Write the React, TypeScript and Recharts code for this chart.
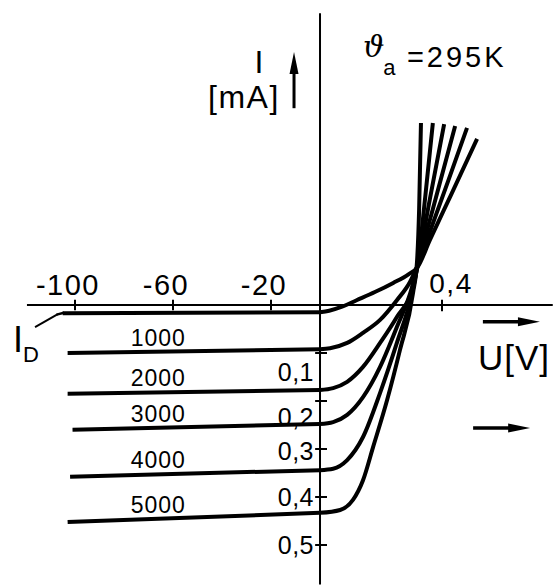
import React from 'react';
import { LineChart, Line, XAxis, YAxis, ReferenceLine, ReferenceDot } from 'recharts';

type Pt = { u: number; i: number };

// reverse branch, U in V (left scale), I in mA
const revDark: Pt[] = [{ u: -105, i: -0.017 }, { u: 0, i: -0.015 }];
const rev1000: Pt[] = [{ u: -103, i: -0.1 }, { u: 0, i: -0.092 }];
const rev2000: Pt[] = [{ u: -103, i: -0.185 }, { u: 0, i: -0.177 }];
const rev3000: Pt[] = [{ u: -101, i: -0.26 }, { u: 0, i: -0.248 }];
const rev4000: Pt[] = [{ u: -102, i: -0.358 }, { u: 0, i: -0.344 }];
const rev5000: Pt[] = [{ u: -103, i: -0.452 }, { u: 0, i: -0.433 }];

// forward branch, U in V (right scale)
const fwdDark: Pt[] = [
  { u: 0, i: -0.015 }, { u: 0.03, i: -0.012 }, { u: 0.07, i: -0.004 }, { u: 0.12, i: 0.01 },
  { u: 0.18, i: 0.027 }, { u: 0.24, i: 0.046 }, { u: 0.29, i: 0.064 }, { u: 0.32, i: 0.079 },
  { u: 0.36, i: 0.135 }, { u: 0.43, i: 0.23 }, { u: 0.515, i: 0.346 },
];
const fwd1000: Pt[] = [
  { u: 0, i: -0.092 }, { u: 0.033, i: -0.09 }, { u: 0.089, i: -0.079 }, { u: 0.141, i: -0.058 },
  { u: 0.197, i: -0.031 }, { u: 0.252, i: 0.01 }, { u: 0.295, i: 0.048 }, { u: 0.318, i: 0.079 },
  { u: 0.36, i: 0.152 }, { u: 0.42, i: 0.258 }, { u: 0.482, i: 0.369 },
];
const fwd2000: Pt[] = [
  { u: 0, i: -0.177 }, { u: 0.043, i: -0.173 }, { u: 0.089, i: -0.16 }, { u: 0.141, i: -0.129 },
  { u: 0.197, i: -0.079 }, { u: 0.252, i: -0.025 }, { u: 0.305, i: 0.038 }, { u: 0.321, i: 0.083 },
  { u: 0.37, i: 0.2 }, { u: 0.443, i: 0.373 },
];
const fwd3000: Pt[] = [
  { u: 0, i: -0.248 }, { u: 0.043, i: -0.244 }, { u: 0.089, i: -0.229 }, { u: 0.141, i: -0.192 },
  { u: 0.197, i: -0.129 }, { u: 0.252, i: -0.046 }, { u: 0.302, i: 0.038 }, { u: 0.321, i: 0.088 },
  { u: 0.36, i: 0.22 }, { u: 0.407, i: 0.377 },
];
const fwd4000: Pt[] = [
  { u: 0, i: -0.344 }, { u: 0.043, i: -0.341 }, { u: 0.089, i: -0.323 }, { u: 0.141, i: -0.275 },
  { u: 0.197, i: -0.183 }, { u: 0.252, i: -0.079 }, { u: 0.302, i: 0.025 }, { u: 0.321, i: 0.088 },
  { u: 0.345, i: 0.225 }, { u: 0.37, i: 0.379 },
];
const fwd5000: Pt[] = [
  { u: 0, i: -0.433 }, { u: 0.066, i: -0.427 }, { u: 0.108, i: -0.406 }, { u: 0.141, i: -0.365 },
  { u: 0.174, i: -0.296 }, { u: 0.22, i: -0.198 }, { u: 0.262, i: -0.094 }, { u: 0.305, i: 0.025 },
  { u: 0.318, i: 0.09 }, { u: 0.325, i: 0.2 }, { u: 0.331, i: 0.379 },
];

const illuminance = [1000, 2000, 3000, 4000, 5000];
const revLit = [rev1000, rev2000, rev3000, rev4000, rev5000];
const fwdLit = [fwd1000, fwd2000, fwd3000, fwd4000, fwd5000];

const negTicks = [-100, -60, -20];
const posTicks = [0.4];
const currentTicks = [0.1, 0.2, 0.3, 0.4, 0.5];

const W = 553;
const H = 585;
const NEG_DOMAIN = [-130.6, 95.1];
const POS_DOMAIN = [-1.0492, 0.7639];
const Y_DOMAIN = [-0.5833, 0.6354];
const FONT = '"Liberation Sans", Arial, Helvetica, sans-serif';
const INK = '#000';

const comma = (v: number) => String(v).replace('.', ',');

// value of a straight reverse line at u
const valueAt = (pts: Pt[], u: number) => {
  const [a, b] = pts;
  return a.i + ((u - a.u) / (b.u - a.u)) * (b.i - a.i);
};

const label = (text: string, opts: { size: number; anchor?: string; dx?: number; dy?: number; ls?: number; family?: string; italic?: boolean }) =>
  (p: any) => (
    <text
      x={p.cx + (opts.dx || 0)}
      y={p.cy + (opts.dy || 0)}
      fontSize={opts.size}
      fontFamily={opts.family || FONT}
      fontStyle={opts.italic ? 'italic' : 'normal'}
      letterSpacing={opts.ls || 0}
      textAnchor={opts.anchor || 'start'}
      fill={INK}
    >
      {text}
    </text>
  );

const head = (dir: 'up' | 'right') => (p: any) => {
  const { cx, cy } = p;
  const pts = dir === 'up'
    ? `${cx},${cy} ${cx - 4.5},${cy + 22} ${cx + 4.5},${cy + 22}`
    : `${cx},${cy} ${cx - 22},${cy - 4.5} ${cx - 22},${cy + 4.5}`;
  return <polygon points={pts} fill={INK} />;
};

const yLabelShift = [19, 16, 2, 0, 0];

export default function App() {
  return (
    <div style={{ position: 'absolute', left: 0, top: 0, width: W, height: H, background: '#fff' }}>
      <LineChart width={W} height={H} margin={{ top: 0, right: 0, bottom: 0, left: 0 }}>
        <XAxis xAxisId="neg" type="number" dataKey="u" domain={NEG_DOMAIN} allowDataOverflow hide />
        <XAxis xAxisId="pos" type="number" dataKey="u" domain={POS_DOMAIN} allowDataOverflow hide />
        <YAxis type="number" domain={Y_DOMAIN} allowDataOverflow hide />

        {/* axes */}
        <ReferenceLine xAxisId="neg" segment={[{ x: -119.6, y: 0 }, { x: 95, y: 0 }]} stroke={INK} strokeWidth={2} />
        <ReferenceLine xAxisId="pos" segment={[{ x: 0, y: 0.608 }, { x: 0, y: -0.582 }]} stroke={INK} strokeWidth={2} />

        {negTicks.map((t) => (
          <ReferenceLine key={'nt' + t} xAxisId="neg" segment={[{ x: t, y: 0.011 }, { x: t, y: -0.011 }]} stroke={INK} strokeWidth={2} />
        ))}
        {negTicks.map((t) => (
          <ReferenceDot key={'nl' + t} xAxisId="neg" x={t} y={0} r={0}
            shape={label(String(t), { size: 29, anchor: 'middle', dx: -7, dy: -10, ls: 1.5 })} />
        ))}
        {posTicks.map((t) => (
          <ReferenceLine key={'pt' + t} xAxisId="pos" segment={[{ x: t, y: 0.011 }, { x: t, y: -0.013 }]} stroke={INK} strokeWidth={2} />
        ))}
        {posTicks.map((t) => (
          <ReferenceDot key={'pl' + t} xAxisId="pos" x={t} y={0} r={0}
            shape={label(comma(t), { size: 28, anchor: 'middle', dx: 9, dy: -12, ls: 1.5 })} />
        ))}
        {currentTicks.map((t) => (
          <ReferenceLine key={'ct' + t} xAxisId="pos" segment={[{ x: -0.016, y: -t }, { x: 0.023, y: -t }]} stroke={INK} strokeWidth={2} />
        ))}
        {currentTicks.map((t, k) => (
          <ReferenceDot key={'cl' + t} xAxisId="pos" x={0} y={-t} r={0}
            shape={label(comma(t), { size: 25, anchor: 'end', dx: -6, dy: 9 + yLabelShift[k], ls: 0.5 })} />
        ))}

        {/* dark current */}
        <Line xAxisId="neg" data={revDark} dataKey="i" type="linear" stroke={INK} strokeWidth={4} dot={false} isAnimationActive={false} />
        <Line xAxisId="pos" data={fwdDark} dataKey="i" type="monotone" stroke={INK} strokeWidth={4} dot={false} isAnimationActive={false} />
        <ReferenceLine xAxisId="neg" segment={[{ x: -116.3, y: -0.046 }, { x: -107, y: -0.019 }]} stroke={INK} strokeWidth={2} />
        <ReferenceLine xAxisId="neg" segment={[{ x: -107.5, y: -0.02 }, { x: -104.5, y: -0.016 }]} stroke={INK} strokeWidth={2.5} />

        {/* illuminated */}
        {revLit.map((d, k) => (
          <Line key={'r' + k} xAxisId="neg" data={d} dataKey="i" type="linear" stroke={INK} strokeWidth={4} dot={false} isAnimationActive={false} />
        ))}
        {fwdLit.map((d, k) => (
          <Line key={'f' + k} xAxisId="pos" data={d} dataKey="i" type="monotone" stroke={INK} strokeWidth={4} dot={false} isAnimationActive={false} />
        ))}
        {illuminance.map((lx, k) => (
          <ReferenceDot key={'lx' + lx} xAxisId="neg" x={-66} y={valueAt(revLit[k], -66)} r={0}
            shape={label(String(lx), { size: 23, anchor: 'middle', dy: -6, ls: 1 })} />
        ))}

        {/* annotations */}
        <ReferenceDot xAxisId="neg" x={-125.3} y={-0.098} r={0} shape={label('I', { size: 36 })} />
        <ReferenceDot xAxisId="neg" x={-121.2} y={-0.119} r={0} shape={label('D', { size: 22, ls: 1 })} />

        <ReferenceDot xAxisId="neg" x={-24.9} y={0.483} r={0} shape={label('I', { size: 32, anchor: 'middle' })} />
        <ReferenceDot xAxisId="neg" x={-45.7} y={0.41} r={0} shape={label('[mA]', { size: 32, ls: 1.5 })} />
        <ReferenceLine xAxisId="neg" segment={[{ x: -10.6, y: 0.49 }, { x: -10.6, y: 0.41 }]} stroke={INK} strokeWidth={3} />
        <ReferenceDot xAxisId="neg" x={-10.6} y={0.527} r={0} shape={head('up')} />

        <ReferenceDot xAxisId="pos" x={0.141} y={0.517} r={0} shape={label('ϑ', { size: 30, italic: true, family: '"DejaVu Serif", serif' })} />
        <ReferenceDot xAxisId="pos" x={0.207} y={0.479} r={0} shape={label('a', { size: 22 })} />
        <ReferenceDot xAxisId="pos" x={0.285} y={0.496} r={0} shape={label('=295K', { size: 29, ls: 3 })} />

        <ReferenceDot xAxisId="pos" x={0.518} y={-0.135} r={0} shape={label('U[V]', { size: 35, ls: 1 })} />
        <ReferenceLine xAxisId="pos" segment={[{ x: 0.534, y: -0.035 }, { x: 0.66, y: -0.035 }]} stroke={INK} strokeWidth={3.5} />
        <ReferenceDot xAxisId="pos" x={0.721} y={-0.035} r={0} shape={head('right')} />
        <ReferenceLine xAxisId="pos" segment={[{ x: 0.502, y: -0.256 }, { x: 0.63, y: -0.256 }]} stroke={INK} strokeWidth={3.5} />
        <ReferenceDot xAxisId="pos" x={0.689} y={-0.256} r={0} shape={head('right')} />
      </LineChart>
    </div>
  );
}
